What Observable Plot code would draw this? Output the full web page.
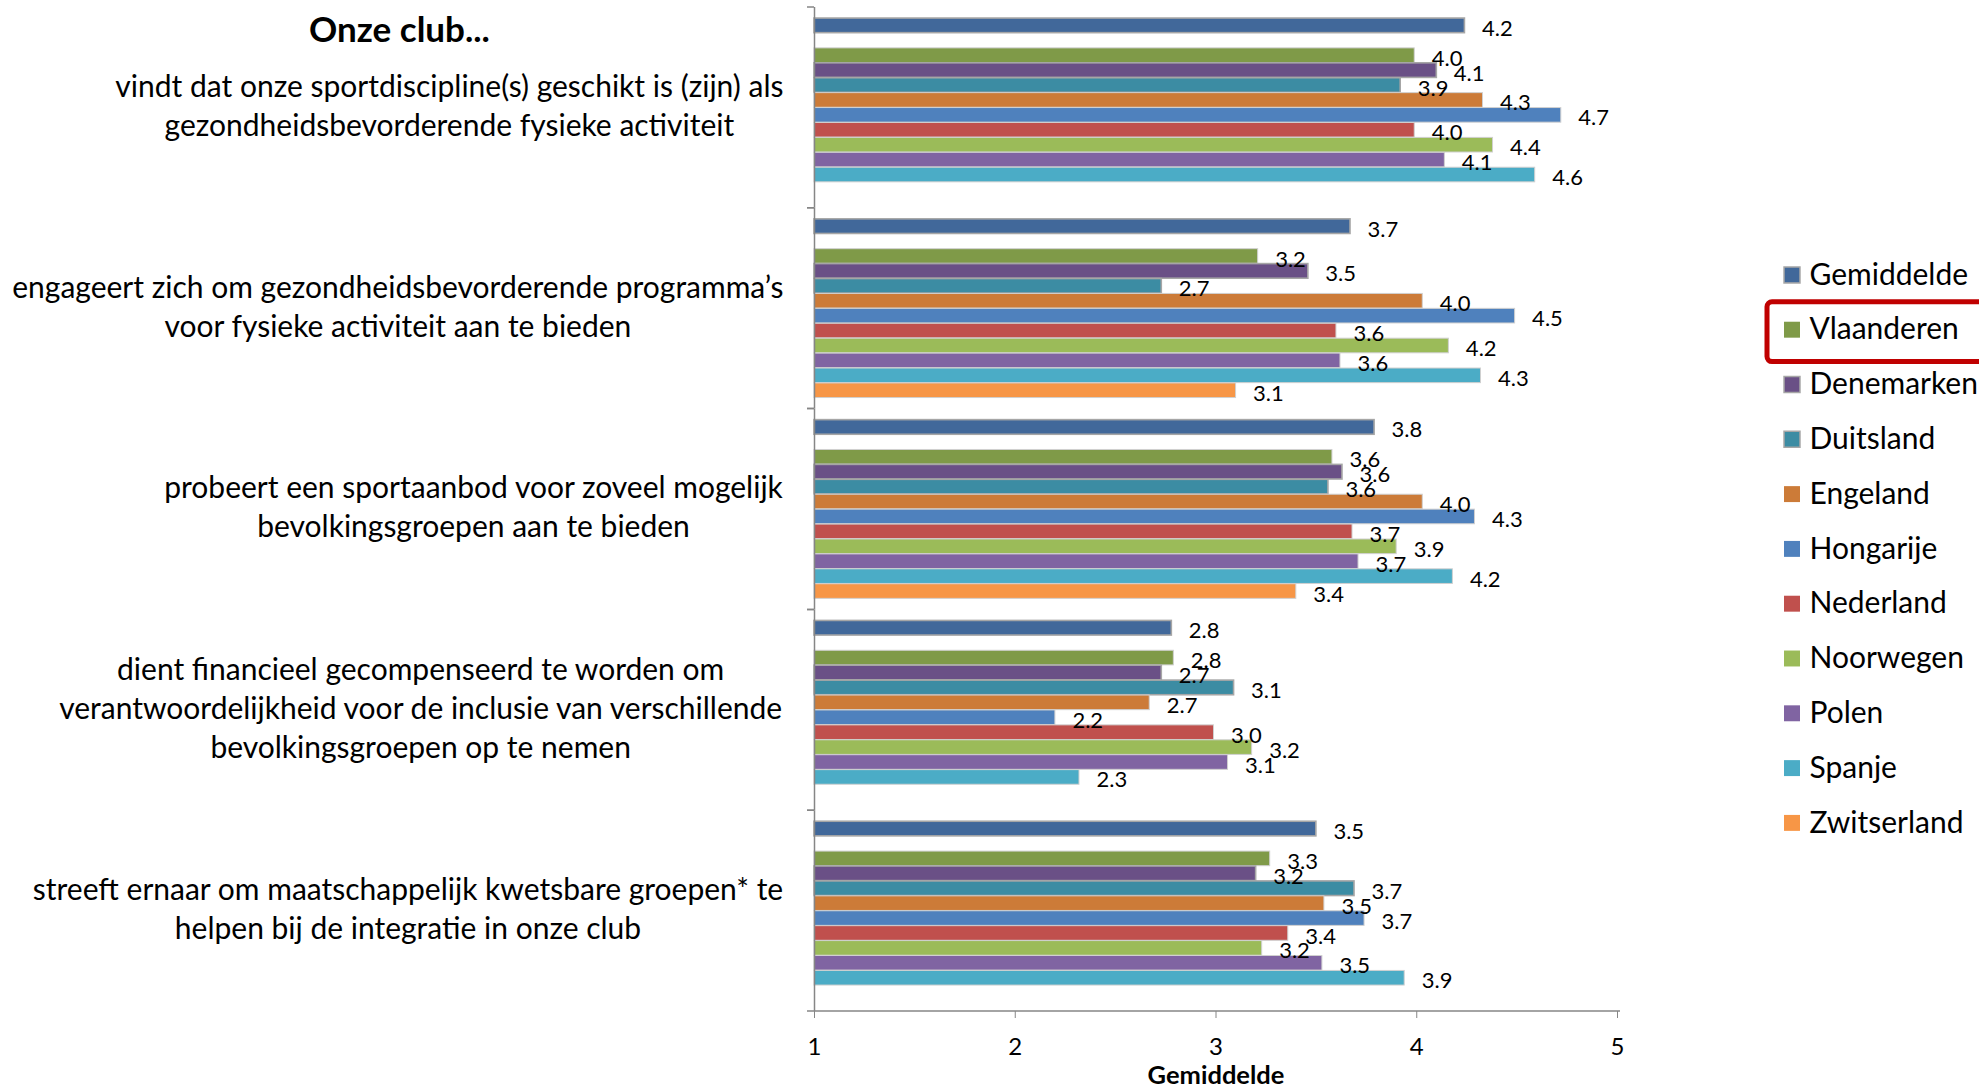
<!DOCTYPE html>
<html>
<head>
<meta charset="utf-8">
<script src="https://cdn.jsdelivr.net/npm/d3@7"></script>
<script src="https://cdn.jsdelivr.net/npm/@observablehq/plot@0.6"></script>
<style>
  html, body { margin: 0; padding: 0; background: #fff; }
  #wrap { position: relative; width: 1979px; height: 1087px; overflow: hidden; background: #fff; }
  #legend { position: absolute; }
</style>
</head>
<body>
<div id="wrap"><div id="chart"></div><div id="legend"></div></div>
<script>
// ---------------- data ----------------
const title = "Onze club...";
const axisTitle = "Gemiddelde";
const statements = [
  "vindt dat onze sportdiscipline(s) geschikt is (zijn) als\ngezondheidsbevorderende fysieke activiteit",
  "engageert zich om gezondheidsbevorderende programma’s\nvoor fysieke activiteit aan te bieden",
  "probeert een sportaanbod voor zoveel mogelijk\nbevolkingsgroepen aan te bieden",
  "dient financieel gecompenseerd te worden om\nverantwoordelijkheid voor de inclusie van verschillende\nbevolkingsgroepen op te nemen",
  "streeft ernaar om maatschappelijk kwetsbare groepen* te\nhelpen bij de integratie in onze club"
];
const series = ["Gemiddelde", "Vlaanderen", "Denemarken", "Duitsland", "Engeland", "Hongarije",
                "Nederland", "Noorwegen", "Polen", "Spanje", "Zwitserland"];
const seriesColors = ["#41689a", "#7f9a48", "#6a5086", "#3c8ca3", "#cc7b38", "#4f81bd",
                      "#c0504d", "#9bbb59", "#8064a2", "#4bacc6", "#f79646"];
const xTicks = [1, 2, 3, 4, 5];

// values per series, one per statement (null = no bar)
const gemiddelde  = [4.24, 3.67, 3.79, 2.78, 3.50];
const vlaanderen  = [3.99, 3.21, 3.58, 2.79, 3.27];
const denemarken  = [4.10, 3.46, 3.63, 2.73, 3.20];
const duitsland   = [3.92, 2.73, 3.56, 3.09, 3.69];
const engeland    = [4.33, 4.03, 4.03, 2.67, 3.54];
const hongarije   = [4.72, 4.49, 4.29, 2.20, 3.74];
const nederland   = [3.99, 3.60, 3.68, 2.99, 3.36];
const noorwegen   = [4.38, 4.16, 3.90, 3.18, 3.23];
const polen       = [4.14, 3.62, 3.71, 3.06, 3.53];
const spanje      = [4.59, 4.32, 4.18, 2.32, 3.94];
const zwitserland = [null, 3.10, 3.40, null, null];

const seriesValues = [gemiddelde, vlaanderen, denemarken, duitsland, engeland, hongarije,
                      nederland, noorwegen, polen, spanje, zwitserland];

const rows = [];
series.forEach((s, i) => seriesValues[i].forEach((v, j) => {
  if (v != null) rows.push({statement: statements[j], series: s, value: v});
}));

// ---------------- layout / style ----------------
const W = 1979, H = 1087;
const mL = 814, mR = 362, mT = 7, mB = 76;
const plotW = W - mL - mR;
const facetH = (H - mT - mB) / statements.length;
const axisGrey = "#868686";
const font = "Lato, 'Open Sans', sans-serif";
const catFont = 30;
const bordered = new Set(["Gemiddelde", "Denemarken", "Duitsland"]);
const yDomain = [series[0], " ", ...series.slice(1)];

const ctx = document.createElement("canvas").getContext("2d");
ctx.font = `${catFont}px Lato`;
const blockW = s => Math.max(...s.split("\n").map(l => ctx.measureText(l).width));

const catLabels = statements.map(s => Plot.text([s], {
  fy: d => d, frameAnchor: "left", text: d => d, textAnchor: "middle",
  dx: -(31 + blockW(s) / 2), dy: -4, fontSize: catFont, lineHeight: 1.3, fill: "#000"
}));

const chart = Plot.plot({
  width: W, height: H,
  marginLeft: mL, marginRight: mR, marginTop: mT, marginBottom: mB,
  style: {fontFamily: font, background: "#fff", color: "#000"},
  fy: {domain: statements, padding: 0, axis: null, round: false},
  y: {domain: yDomain, paddingInner: 0.02, paddingOuter: 0.74, round: false, axis: null},
  x: {domain: [1, 5]},
  color: {domain: series, range: seriesColors},
  marks: [
    Plot.barX(rows, {
      fy: "statement", y: "series", x1: () => 1, x2: "value", fill: "series",
      stroke: d => bordered.has(d.series) ? "#a6a6a6" : "#d0d0d0",
      strokeWidth: d => bordered.has(d.series) ? 1.6 : 1
    }),
    Plot.text(rows, {
      fy: "statement", y: "series", x: "value", text: d => d.value.toFixed(1),
      textAnchor: "start", dx: 17, dy: 3, fontSize: 22, fill: "#000"
    }),
    // vertical axis line
    Plot.ruleX([1], {stroke: axisGrey, strokeWidth: 1.5}),
    // category boundary ticks (top/bottom edge of each group)
    Plot.barX(statements, {
      fy: d => d, x1: () => 1, x2: () => 1, insetLeft: -7, fill: "none",
      stroke: axisGrey, strokeWidth: 1.5, strokeDasharray: `7 ${facetH} 7 ${facetH}`
    }),
    // horizontal axis line (bottom edge of the last group)
    Plot.barX([statements[statements.length - 1]], {
      fy: d => d, x1: () => 1, x2: () => 5, insetRight: -3, fill: "none",
      stroke: axisGrey, strokeWidth: 1.5,
      strokeDasharray: `0 ${plotW + 3 + facetH} ${plotW + 3} ${facetH + 5}`
    }),
    Plot.axisX({
      ticks: xTicks, tickFormat: d => String(d), tickSize: 7, tickPadding: 19,
      fontSize: 24, stroke: axisGrey, fill: "#000", label: null
    }),
    ...catLabels,
    Plot.text([statements[0]], {
      fy: d => d, frameAnchor: "top-left", lineAnchor: "middle", text: () => title,
      textAnchor: "middle", dx: 399 - mL, dy: 23, fontSize: 35, fontWeight: "bold", fill: "#000"
    }),
    Plot.text([statements[statements.length - 1]], {
      fy: d => d, frameAnchor: "bottom", lineAnchor: "middle", text: () => axisTitle,
      dy: 64, fontSize: 25.5, fontWeight: "bold", fill: "#000"
    })
  ]
});
document.getElementById("chart").appendChild(chart);

// ---------------- legend ----------------
const legStep = 54.8;
const legLeft = 1760, legTop = 274 - legStep / 2;
const legend = Plot.plot({
  width: W - legLeft, height: legStep * series.length,
  margin: 0,
  style: {fontFamily: font, background: "transparent", overflow: "visible"},
  y: {domain: series, padding: 0, round: false, axis: null},
  color: {domain: series, range: seriesColors},
  marks: [
    Plot.cell(["Vlaanderen"], {
      y: d => d, fill: "none", stroke: "#c00000", strokeWidth: 5, rx: 5,
      insetLeft: 7, insetRight: -20, insetTop: 0, insetBottom: -5
    }),
    Plot.dot(series, {
      y: d => d, frameAnchor: "left", dx: 31.5, symbol: "square", r: 9,
      fill: d => d, stroke: d => bordered.has(d) ? "#a6a6a6" : "none", strokeWidth: 1.5
    }),
    Plot.text(series, {
      y: d => d, frameAnchor: "left", dx: 49, text: d => d, textAnchor: "start",
      fontSize: catFont, fill: "#000"
    })
  ]
});
const legDiv = document.getElementById("legend");
legDiv.style.left = legLeft + "px";
legDiv.style.top = legTop + "px";
legDiv.appendChild(legend);
</script>
</body>
</html>
